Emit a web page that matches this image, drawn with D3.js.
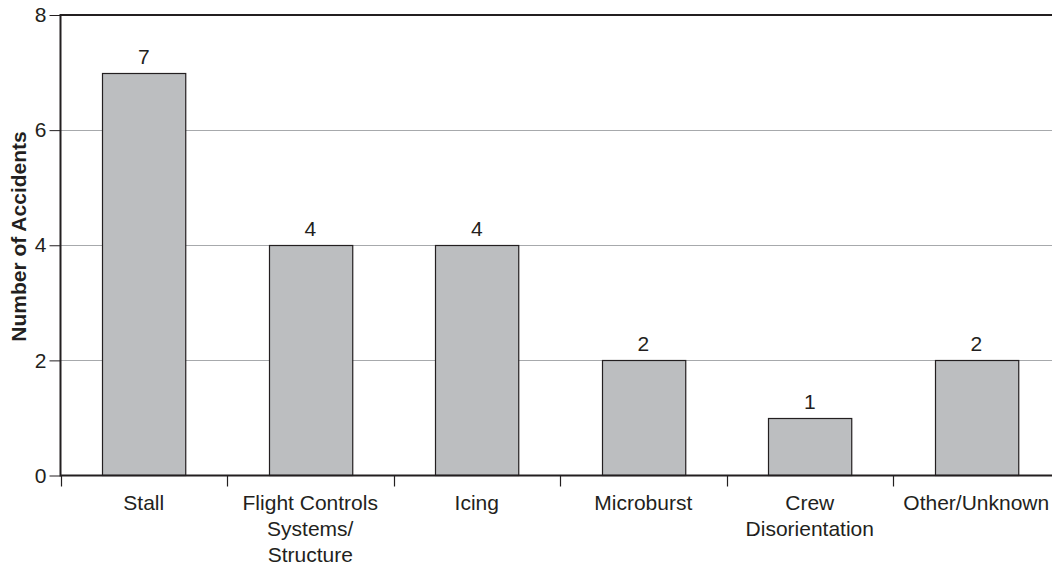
<!DOCTYPE html>
<html>
<head>
<meta charset="utf-8">
<script src="https://cdn.jsdelivr.net/npm/d3@7"></script>
<style>
  html, body { margin: 0; padding: 0; background: #fff; }
  svg { display: block; font-family: "Liberation Sans", Arial, Helvetica, sans-serif; }
</style>
</head>
<body>
<svg id="chart" width="1052" height="564"></svg>
<script>
// Accident causes and counts
const categories = ["Stall", "Flight Controls\nSystems/\nStructure", "Icing", "Microburst", "Crew\nDisorientation", "Other/Unknown"];
const accidents = [7, 4, 4, 2, 1, 2];
const yTicks = [0, 2, 4, 6, 8];

const svg = d3.select("#chart");
const plotLeft = 60.5, plotTop = 15, plotBottom = 475.5, step = 166.5;
const ink = "#231f20";
const fontSize = 21;

const x = d3.scaleBand()
  .domain(categories)
  .range([plotLeft, plotLeft + step * categories.length])
  .paddingInner(0.5)
  .paddingOuter(0.25);

const y = d3.scaleLinear().domain([0, 8]).range([plotBottom, plotTop]);

// Horizontal gridlines
svg.append("g")
  .selectAll("line")
  .data(yTicks.filter(t => t > 0 && t < 8))
  .join("line")
  .attr("x1", plotLeft).attr("x2", 1052)
  .attr("y1", d => Math.round(y(d)) + 0.5).attr("y2", d => Math.round(y(d)) + 0.5)
  .attr("stroke", "#a7a9ac").attr("stroke-width", 1);

// Bars
svg.append("g")
  .selectAll("rect")
  .data(categories)
  .join("rect")
  .attr("x", d => Math.round(x(d)) + 0.5)
  .attr("y", (d, i) => Math.round(y(accidents[i])) + 0.5)
  .attr("width", x.bandwidth())
  .attr("height", (d, i) => plotBottom - Math.round(y(accidents[i])) - 0.5)
  .attr("fill", "#bcbec0")
  .attr("stroke", ink)
  .attr("stroke-width", 1.2);

// Value labels
svg.append("g")
  .selectAll("text")
  .data(categories)
  .join("text")
  .attr("x", d => x(d) + x.bandwidth() / 2)
  .attr("y", (d, i) => y(accidents[i]) - 9)
  .attr("text-anchor", "middle")
  .attr("font-size", fontSize)
  .attr("fill", ink)
  .text((d, i) => accidents[i]);

// Top frame line
svg.append("line")
  .attr("x1", plotLeft).attr("x2", 1052)
  .attr("y1", plotTop).attr("y2", plotTop)
  .attr("stroke", ink).attr("stroke-width", 2);

// Y axis
const yAxis = svg.append("g")
  .attr("transform", `translate(${plotLeft},0)`)
  .call(d3.axisLeft(y).tickValues(yTicks).tickSize(11).tickPadding(3).tickFormat(d3.format("d")));
yAxis.select(".domain").attr("stroke", ink).attr("stroke-width", 2)
  .attr("d", `M0,${plotTop - 1}V${plotBottom + 1}`);
yAxis.selectAll(".tick line").attr("stroke", ink);
yAxis.selectAll(".tick text").attr("font-size", fontSize).attr("fill", ink)
  .attr("font-family", "Liberation Sans, Arial, sans-serif");

// X axis with boundary ticks
svg.append("line")
  .attr("x1", plotLeft).attr("x2", 1052)
  .attr("y1", plotBottom).attr("y2", plotBottom)
  .attr("stroke", ink).attr("stroke-width", 2);

const boundaries = d3.range(categories.length).map(i => plotLeft + step * i);
svg.append("g")
  .selectAll("line")
  .data(boundaries)
  .join("line")
  .attr("x1", d => Math.round(d) + 0.5).attr("x2", d => Math.round(d) + 0.5)
  .attr("y1", plotBottom).attr("y2", plotBottom + 11)
  .attr("stroke", ink).attr("stroke-width", 1.2);

// Category labels (multi-line)
const catLabels = svg.append("g")
  .selectAll("text")
  .data(categories)
  .join("text")
  .attr("x", d => x(d) + x.bandwidth() / 2)
  .attr("y", 510)
  .attr("text-anchor", "middle")
  .attr("font-size", fontSize)
  .attr("fill", ink);
catLabels.each(function(d) {
  const t = d3.select(this);
  d.split("\n").forEach((line, i) => {
    t.append("tspan")
      .attr("x", x(d) + x.bandwidth() / 2)
      .attr("dy", i === 0 ? 0 : 25.8)
      .text(line);
  });
});

// Y axis title
svg.append("text")
  .attr("transform", "translate(26,236.5) rotate(-90)")
  .attr("text-anchor", "middle")
  .attr("font-size", 21)
  .attr("font-weight", "bold")
  .attr("fill", ink)
  .text("Number of Accidents");
</script>
</body>
</html>
